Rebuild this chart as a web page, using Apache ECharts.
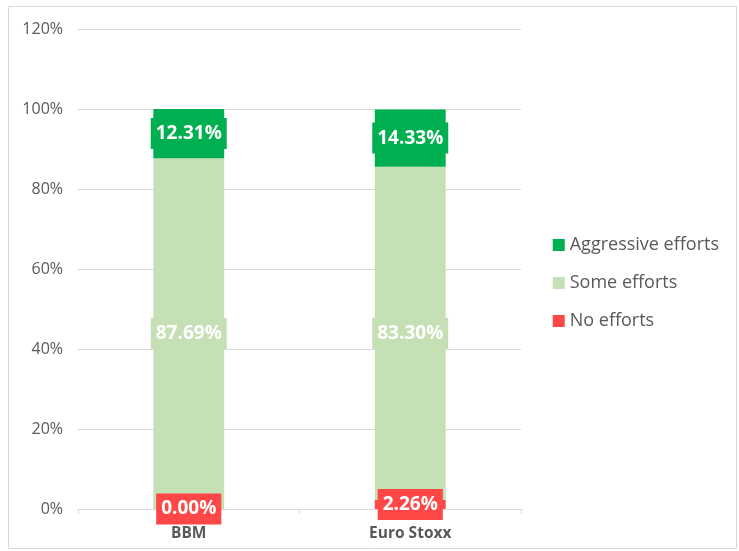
<!DOCTYPE html>
<html><head><meta charset="utf-8">
<script src="https://cdn.jsdelivr.net/npm/echarts@6/dist/echarts.min.js"></script>
<style>html,body{margin:0;padding:0;background:#fff}#c{width:739px;height:551px}</style>
</head><body><div id="c"></div>
<script>
const categories = ['BBM', 'Euro Stoxx'];
const noEfforts = [0.00, 2.26];
const someEfforts = [87.69, 83.30];
const aggressiveEfforts = [12.31, 14.33];
const yTicks = [0, 20, 40, 60, 80, 100, 120];

const FONT = '"Open Sans", "Noto Sans", sans-serif';
function lbl(bg) {
  return {
    show: true, position: 'inside', color: '#fff', fontWeight: 'bold',
    fontSize: 19, fontFamily: FONT, backgroundColor: bg, padding: [7, 5, 5, 5],
    formatter: p => p.value.toFixed(2) + '%'
  };
}
const chart = echarts.init(document.getElementById('c'));
chart.setOption({
  animation: false,
  graphic: [{ type: 'rect', shape: { x: 8.5, y: 6.5, width: 728, height: 542 },
    style: { fill: 'none', stroke: '#d9d9d9', lineWidth: 1 } }],
  grid: { left: 78, right: 218, top: 29, bottom: 42 },
  legend: {
    orient: 'vertical', right: 15, top: 231, itemWidth: 12, itemHeight: 12, itemGap: 20,
    textStyle: { fontSize: 18, color: '#595959', fontFamily: FONT },
    data: ['Aggressive efforts', 'Some efforts', 'No efforts'],
    icon: 'rect'
  },
  xAxis: {
    type: 'category', data: categories,
    axisLine: { lineStyle: { color: '#d9d9d9' } },
    axisTick: { show: true, length: 5, lineStyle: { color: '#d9d9d9' } },
    axisLabel: { color: '#595959', fontSize: 15.5, fontWeight: 'bold', fontFamily: FONT, margin: 17 }
  },
  yAxis: {
    type: 'value', min: yTicks[0], max: yTicks[yTicks.length - 1], interval: 20,
    axisLabel: { formatter: '{value}%', color: '#595959', fontSize: 16, fontFamily: FONT, margin: 15 },
    splitLine: { lineStyle: { color: '#d9d9d9' } },
    axisLine: { show: false }, axisTick: { show: false }
  },
  series: [
    { name: 'No efforts', type: 'bar', stack: 's', data: noEfforts, barWidth: '32%',
      itemStyle: { color: '#ff4747' }, label: lbl('#ff4747') },
    { name: 'Some efforts', type: 'bar', stack: 's', data: someEfforts,
      itemStyle: { color: '#c5e0b4' }, label: lbl('#c5e0b4') },
    { name: 'Aggressive efforts', type: 'bar', stack: 's', data: aggressiveEfforts,
      itemStyle: { color: '#00b050' }, label: lbl('#00b050') }
  ]
});
</script></body></html>
